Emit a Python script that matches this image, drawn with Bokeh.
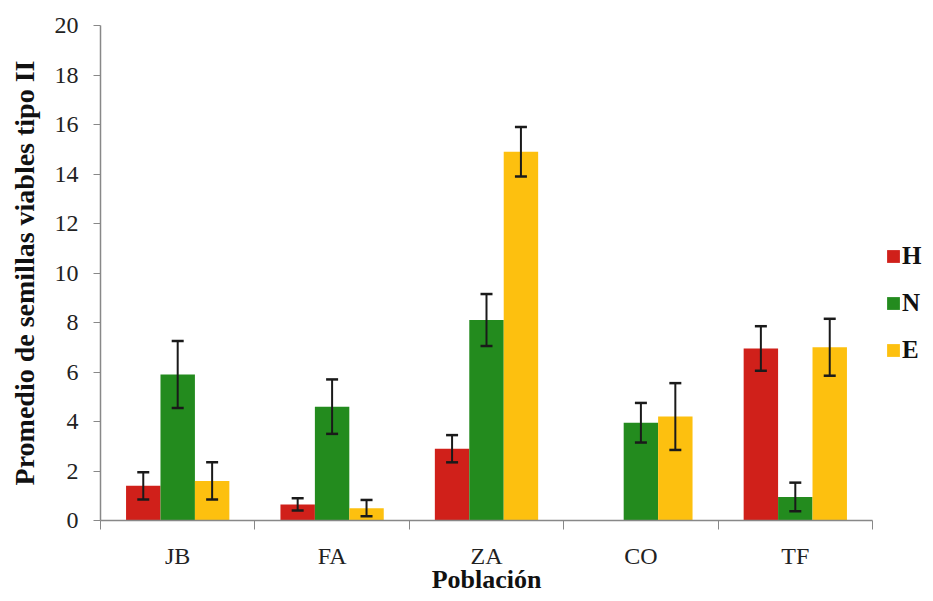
from bokeh.plotting import figure
from bokeh.models import (ColumnDataSource, Range1d, FixedTicker, SingleIntervalTicker,
                          Whisker, TeeHead, Legend, LegendItem, Title)
from bokeh.embed import file_html
from bokeh.resources import INLINE

categories = ["JB", "FA", "ZA", "CO", "TF"]
series = ["H", "N", "E"]
H_vals = [1.4, 0.65, 2.9, 0.0, 6.95]
H_err = [0.55, 0.25, 0.55, 0.0, 0.9]
N_vals = [5.9, 4.6, 8.1, 3.95, 0.95]
N_err = [1.35, 1.1, 1.05, 0.8, 0.58]
E_vals = [1.6, 0.5, 14.9, 4.2, 7.0]
E_err = [0.75, 0.33, 1.0, 1.35, 1.15]
colors = ["#d0201a", "#238b1e", "#fdc00f"]
y_ticks_interval = 2

FONT = "Liberation Serif"

W, H = 925, 593
LEFT, TOP, BOTTOM = 100, 25, 73
axis_px = 772  # pixel length of the category axis
frame_w = W - LEFT
x_end = len(categories) * frame_w / axis_px

p = figure(width=W, height=H, output_backend="svg", toolbar_location=None,
           x_range=Range1d(0, x_end), y_range=Range1d(0, 20),
           min_border_left=LEFT, min_border_right=0, min_border_top=TOP,
           min_border_bottom=BOTTOM)
p.outline_line_color = None
p.xgrid.grid_line_color = None
p.ygrid.grid_line_color = None
p.background_fill_color = "white"
p.border_fill_color = "white"

bar_w = 0.223
offsets = [-bar_w, 0.0, bar_w]
vals_all = [H_vals, N_vals, E_vals]
errs_all = [H_err, N_err, E_err]

items = []
for s, vals, errs, col, off in zip(series, vals_all, errs_all, colors, offsets):
    xs = [i + 0.5 + off for i in range(len(categories))]
    src = ColumnDataSource(dict(x=xs, top=vals))
    r = p.vbar(x="x", top="top", width=bar_w, source=src, fill_color=col, line_color=None)
    items.append(LegendItem(label=s, renderers=[r]))
    keep = [k for k in range(len(vals)) if vals[k] > 0]
    esrc = ColumnDataSource(dict(
        x=[xs[k] for k in keep],
        up=[vals[k] + errs[k] for k in keep],
        lo=[vals[k] - errs[k] for k in keep]))
    w = Whisker(base="x", upper="up", lower="lo", source=esrc, dimension="height",
                line_color="#1a1a1a", line_width=2, level="overlay",
                upper_head=TeeHead(size=12, line_width=2.5, line_color="#1a1a1a"),
                lower_head=TeeHead(size=12, line_width=2.5, line_color="#1a1a1a"))
    p.add_layout(w)

# axes
xa = p.xaxis[0]
xa.bounds = (0, len(categories))
xa.ticker = FixedTicker(ticks=[i + 0.5 for i in range(len(categories))],
                        minor_ticks=list(range(len(categories) + 1)))
xa.major_label_overrides = {i + 0.5: c for i, c in enumerate(categories)}
xa.major_tick_out = 0
xa.major_tick_in = 0
xa.minor_tick_out = 9
xa.minor_tick_in = 0
xa.minor_tick_line_color = "#888888"
xa.axis_line_color = "#888888"
xa.axis_line_width = 1.5
xa.major_label_text_font = FONT
xa.major_label_text_font_size = "24px"
xa.major_label_text_color = "#222222"
xa.major_label_standoff = 13

# x-axis title centred under the category axis (not the wider frame)
xt_font_px = 26
xt_text = "Población"
xt_width_est = 4.22 * xt_font_px
xt = Title(text=xt_text, align="left",
           offset=axis_px / 2 - xt_width_est / 2, standoff=-17,
           text_font=FONT, text_font_style="bold", text_font_size=f"{xt_font_px}px",
           text_color="#111111")
p.add_layout(xt, "below")

ya = p.yaxis[0]
ya.ticker = SingleIntervalTicker(interval=y_ticks_interval, num_minor_ticks=0)
ya.major_tick_out = 7
ya.major_tick_in = 0
ya.major_tick_line_color = "#888888"
ya.minor_tick_line_color = None
ya.axis_line_color = "#888888"
ya.axis_line_width = 1.5
ya.major_label_text_font = FONT
ya.major_label_text_font_size = "24px"
ya.major_label_text_color = "#222222"
ya.major_label_standoff = 15
ya.axis_label = "Promedio de semillas viables tipo II"
ya.axis_label_text_font = FONT
ya.axis_label_text_font_style = "bold"
ya.axis_label_text_font_size = "28px"
ya.axis_label_text_color = "#111111"
ya.axis_label_standoff = 12

legend = Legend(items=items, location=(785, 156), orientation="vertical",
                glyph_width=16, glyph_height=16, label_standoff=1,
                label_height=24, spacing=19, padding=0, margin=0,
                border_line_color=None, background_fill_alpha=0,
                label_text_font=FONT, label_text_font_style="bold",
                label_text_font_size="25px", label_text_color="#111111")
p.add_layout(legend)

open("out.html", "w").write(file_html(p, INLINE))
